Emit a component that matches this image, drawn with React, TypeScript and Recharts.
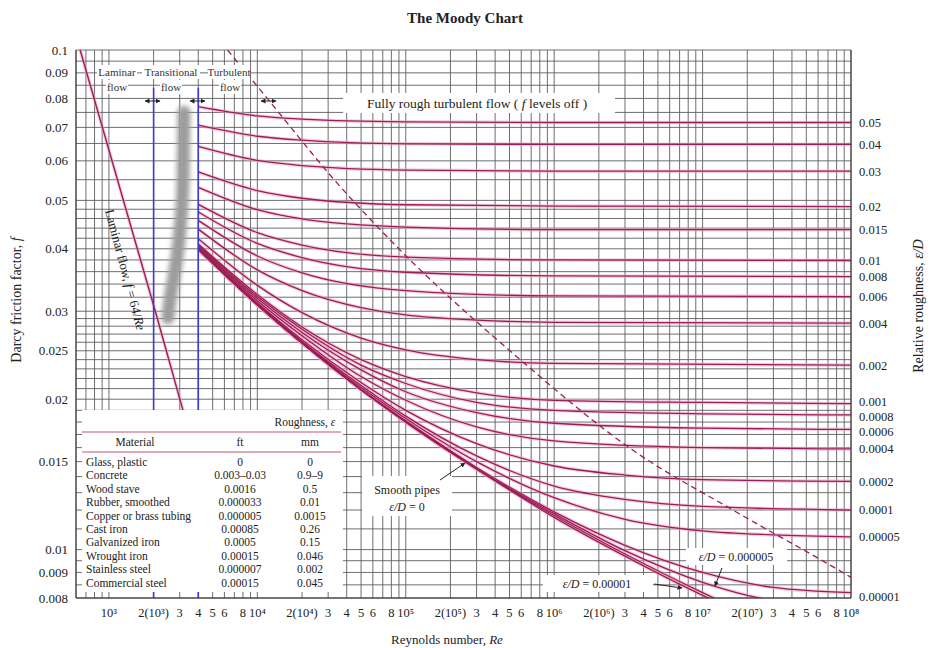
import { LineChart, Line, XAxis, YAxis, CartesianGrid } from "recharts";

const SERIF = "'Liberation Serif', 'DejaVu Serif', serif";
const CURVE = "#9b1d55";
const HALO = "#eba6c4";
const GRID = "#5e5e5e";
const INK = "#222";

// turbulent curves, [Re, f] pairs
const rough050 = [[4000, 0.077], [1e4, 0.0738], [2e4, 0.0727], [1e5, 0.0718], [1e6, 0.0716], [1e8, 0.0716]];
const rough040 = [[4000, 0.0707], [1e4, 0.0672], [2e4, 0.066], [1e5, 0.0649], [1e6, 0.0647], [1e8, 0.0647]];
const rough030 = [[4000, 0.0641], [1e4, 0.0601], [2e4, 0.0587], [1e5, 0.0575], [1e6, 0.0572], [1e8, 0.0572]];
const rough020 = [[4000, 0.057], [1e4, 0.0523], [2e4, 0.0505], [1e5, 0.049], [1e6, 0.0487], [1e8, 0.0486]];
const rough015 = [[4000, 0.0531], [1e4, 0.0479], [2e4, 0.0459], [1e5, 0.0442], [1e6, 0.0437], [1e8, 0.0437]];
const rough010 = [[4000, 0.0491], [1e4, 0.0431], [2e4, 0.0407], [1e5, 0.0385], [1e6, 0.038], [1e8, 0.0379]];
const rough008 = [[4000, 0.0474], [1e4, 0.041], [2e4, 0.0384], [1e5, 0.0359], [1e6, 0.0353], [1e8, 0.0352]];
const rough006 = [[4000, 0.0456], [1e4, 0.0387], [2e4, 0.0358], [1e5, 0.033], [1e6, 0.0322], [1e8, 0.0321]];
const rough004 = [[4000, 0.0438], [1e4, 0.0363], [2e4, 0.033], [5e4, 0.0305], [1e5, 0.0295], [3e5, 0.0288], [1e6, 0.0285], [1e8, 0.0284]];
const rough002 = [[4000, 0.0419], [1e4, 0.0338], [2e4, 0.0298], [5e4, 0.0265], [1e5, 0.0251], [3e5, 0.024], [1e6, 0.0236], [1e8, 0.0234]];
const rough001 = [[4000, 0.0409], [1e4, 0.0324], [2e4, 0.0279], [5e4, 0.024], [1e5, 0.0222], [3e5, 0.0206], [1e6, 0.0199], [1e7, 0.0197], [1e8, 0.0196]];
const rough0008 = [[4000, 0.0407], [1e4, 0.0321], [2e4, 0.0276], [5e4, 0.0234], [1e5, 0.0215], [3e5, 0.0197], [1e6, 0.019], [1e7, 0.0187], [1e8, 0.0186]];
const rough0006 = [[4000, 0.0405], [1e4, 0.0318], [2e4, 0.0272], [5e4, 0.0229], [1e5, 0.0207], [3e5, 0.0188], [1e6, 0.0179], [1e7, 0.0175], [1e8, 0.0174]];
const rough0004 = [[4000, 0.0403], [1e4, 0.0315], [2e4, 0.0268], [5e4, 0.0222], [1e5, 0.0199], [3e5, 0.0176], [1e6, 0.0165], [1e7, 0.016], [1e8, 0.0159]];
const rough0002 = [[4000, 0.0401], [1e4, 0.0312], [2e4, 0.0263], [5e4, 0.0216], [1e5, 0.019], [3e5, 0.0163], [1e6, 0.0147], [3e6, 0.0141], [1e7, 0.0138], [1e8, 0.0137]];
const rough0001 = [[4000, 0.04], [1e4, 0.031], [2e4, 0.0261], [5e4, 0.0213], [1e5, 0.0185], [3e5, 0.0154], [1e6, 0.0134], [3e6, 0.0126], [1e7, 0.0122], [1e8, 0.012]];
const rough00005 = [[4000, 0.04], [1e4, 0.0309], [2e4, 0.026], [5e4, 0.0211], [1e5, 0.0183], [3e5, 0.015], [1e6, 0.0127], [3e6, 0.0115], [1e7, 0.0109], [3e7, 0.0107], [1e8, 0.0106]];
const rough00001 = [[4000, 0.0399], [1e4, 0.0309], [2e4, 0.0259], [5e4, 0.0209], [1e5, 0.0181], [3e5, 0.0146], [1e6, 0.0119], [3e6, 0.0102], [1e7, 0.009], [3e7, 0.0084], [1e8, 0.0082]];
const rough000005 = [[4000, 0.0399], [1e4, 0.0309], [2e4, 0.0259], [5e4, 0.0209], [1e5, 0.018], [3e5, 0.0145], [1e6, 0.0118], [3e6, 0.00995], [1e7, 0.0086], [2e7, 0.0081], [3e7, 0.0079]];
const rough000001 = [[4000, 0.0399], [1e4, 0.0309], [2e4, 0.0259], [5e4, 0.0209], [1e5, 0.018], [3e5, 0.0145], [1e6, 0.0117], [3e6, 0.0098], [1e7, 0.0082], [1.3e7, 0.0079]];
const smoothPipe = [[4000, 0.0399], [1e4, 0.0309], [2e4, 0.0259], [5e4, 0.0209], [1e5, 0.018], [3e5, 0.0145], [1e6, 0.0116], [3e6, 0.0097], [1e7, 0.0081], [1.2e7, 0.0079]];

const laminar = [[640, 0.1], [2040, 0.0302], [3155, 0.019], [4000, 0.0148]];
const transitionBand = [[2500, 0.0291], [2578, 0.0316], [2787, 0.0363], [3012, 0.0436], [3156, 0.0549], [3205, 0.0751]];
const roughBoundary = [[6300, 0.1], [12200, 0.0787], [34400, 0.0542], [78300, 0.0417], [590000, 0.024], [3.4e6, 0.0158], [1.6e7, 0.012], [8.8e7, 0.009], [1e8, 0.0088]];
const laminarEdge = [[2000, 0.084], [2000, 0.008]];
const turbulentEdge = [[4000, 0.084], [4000, 0.008]];

const turbulentCurves = [
  rough050, rough040, rough030, rough020, rough015, rough010, rough008, rough006, rough004,
  rough002, rough001, rough0008, rough0006, rough0004, rough0002, rough0001, rough00005,
  rough00001, rough000005, rough000001, smoothPipe,
];

// right-hand labels and the f level where each sits at the right edge
const roughLabels = ["0.05", "0.04", "0.03", "0.02", "0.015", "0.01", "0.008", "0.006", "0.004", "0.002", "0.001", "0.0008", "0.0006", "0.0004", "0.0002", "0.0001", "0.00005", "0.00001"];
const roughPos = [0.0716, 0.0647, 0.0572, 0.0486, 0.0437, 0.0379, 0.0352, 0.0321, 0.0284, 0.0234, 0.0198, 0.0185, 0.0172, 0.0159, 0.0137, 0.012, 0.0106, 0.00805];

const fLabels = [0.1, 0.09, 0.08, 0.07, 0.06, 0.05, 0.04, 0.03, 0.025, 0.02, 0.015, 0.01, 0.009, 0.008];
const fGrid = [
  0.1, 0.095, 0.09, 0.085, 0.08, 0.075, 0.07, 0.065, 0.06, 0.055, 0.05, 0.048, 0.046, 0.044, 0.042,
  0.04, 0.038, 0.036, 0.034, 0.032, 0.03, 0.029, 0.028, 0.027, 0.026, 0.025, 0.024, 0.023, 0.022,
  0.021, 0.02, 0.019, 0.018, 0.017, 0.016, 0.015, 0.014, 0.013, 0.012, 0.011, 0.01, 0.0095, 0.009,
  0.0085, 0.008,
];

const reLabels: [number, string][] = [
  [1e3, "10³"], [2e3, "2(10³)"], [3e3, "3"], [4e3, "4"], [5e3, "5"], [6e3, "6"], [8e3, "8"],
  [1e4, "10⁴"], [2e4, "2(10⁴)"], [3e4, "3"], [4e4, "4"], [5e4, "5"], [6e4, "6"], [8e4, "8"],
  [1e5, "10⁵"], [2e5, "2(10⁵)"], [3e5, "3"], [4e5, "4"], [5e5, "5"], [6e5, "6"], [8e5, "8"],
  [1e6, "10⁶"], [2e6, "2(10⁶)"], [3e6, "3"], [4e6, "4"], [5e6, "5"], [6e6, "6"], [8e6, "8"],
  [1e7, "10⁷"], [2e7, "2(10⁷)"], [3e7, "3"], [4e7, "4"], [5e7, "5"], [6e7, "6"], [8e7, "8"],
  [1e8, "10⁸"],
];
const reGrid: number[] = [600, 700, 800, 900];
[1e3, 1e4, 1e5, 1e6, 1e7].forEach((d) => [1, 2, 3, 4, 5, 6, 7, 8, 9].forEach((m) => reGrid.push(m * d)));
reGrid.push(1e8);

const materials = ["Glass, plastic", "Concrete", "Wood stave", "Rubber, smoothed", "Copper or brass tubing", "Cast iron", "Galvanized iron", "Wrought iron", "Stainless steel", "Commercial steel"];
const roughFt = ["0", "0.003–0.03", "0.0016", "0.000033", "0.000005", "0.00085", "0.0005", "0.00015", "0.000007", "0.00015"];
const roughMm = ["0", "0.9–9", "0.5", "0.01", "0.0015", "0.26", "0.15", "0.046", "0.002", "0.045"];

const pts = (arr: number[][]) => arr.map(([re, f]) => ({ re, f }));
const fmtRe = (v: number) => reLabels.find(([k]) => k === v)?.[1] ?? "";
const fmtF = (v: number) => (fLabels.includes(v) ? String(v) : "");
const fmtRough = (v: number) => roughLabels[roughPos.indexOf(v)] ?? "";

function Overlay() {
  const rowY = (i: number) => 466 + i * 13.4;
  return (
    <svg width={931} height={648} style={{ position: "absolute", left: 0, top: 0, pointerEvents: "none" }} fontFamily={SERIF} fill={INK}>
      <defs>
        <marker id="ah" viewBox="0 0 10 10" refX="9" refY="5" markerWidth="5" markerHeight="5" orient="auto-start-reverse">
          <path d="M0,0 L10,5 L0,10 z" fill={INK} />
        </marker>
        <filter id="bandBlur" x="-100%" y="-20%" width="300%" height="140%">
          <feGaussianBlur stdDeviation="2.4" />
        </filter>
      </defs>

      <text x={465} y={23} textAnchor="middle" fontSize={15} fontWeight="bold">The Moody Chart</text>
      <text transform="translate(21,300) rotate(-90)" textAnchor="middle" fontSize={14}>
        Darcy friction factor, <tspan fontStyle="italic">f</tspan>
      </text>
      <text transform="translate(923,306) rotate(-90)" textAnchor="middle" fontSize={14}>
        Relative roughness, <tspan fontStyle="italic">ε/D</tspan>
      </text>
      <text x={447} y={644} textAnchor="middle" fontSize={13}>Reynolds number, <tspan fontStyle="italic">Re</tspan></text>

      {/* flow regime captions */}
      <rect x={97} y={65} width={40} height={14} fill="#fff" />
      <rect x={106} y={80} width={22} height={14} fill="#fff" />
      <rect x={142} y={65} width={58} height={14} fill="#fff" />
      <rect x={160} y={80} width={22} height={14} fill="#fff" />
      <rect x={208} y={65} width={42} height={14} fill="#fff" />
      <rect x={219} y={80} width={22} height={14} fill="#fff" />
      <g fontSize={11} textAnchor="middle" fill="#333">
        <text x={117} y={76}>Laminar</text>
        <text x={117} y={91}>flow</text>
        <text x={171} y={76}>Transitional</text>
        <text x={171} y={91}>flow</text>
        <text x={229} y={76}>Turbulent</text>
        <text x={230} y={91}>flow</text>
      </g>
      <g stroke={INK} strokeWidth={1}>
        <line x1={145} y1={101} x2={160} y2={101} markerStart="url(#ah)" markerEnd="url(#ah)" />
        <line x1={190} y1={101} x2={205} y2={101} markerStart="url(#ah)" markerEnd="url(#ah)" />
        <line x1={261} y1={101} x2={276} y2={101} markerStart="url(#ah)" markerEnd="url(#ah)" />
      </g>

      <text transform="translate(121,271) rotate(75)" textAnchor="middle" fontSize={13}>
        Laminar flow, <tspan fontStyle="italic">f</tspan> = 64/<tspan fontStyle="italic">Re</tspan>
      </text>

      <rect x={343} y={93} width={272} height={20} fill="#fff" />
      <text x={477} y={108} textAnchor="middle" fontSize={13.5}>
        Fully rough turbulent flow ( <tspan fontStyle="italic">f</tspan> levels off )
      </text>

      <rect x={362} y={476} width={90} height={40} fill="#fff" />
      <text x={407} y={494} textAnchor="middle" fontSize={12}>Smooth pipes</text>
      <text x={407} y={511} textAnchor="middle" fontSize={12}>
        <tspan fontStyle="italic">ε/D</tspan> = 0
      </text>
      <line x1={440} y1={480} x2={465} y2={463} stroke={INK} strokeWidth={1} markerEnd="url(#ah)" />

      <rect x={686} y={548} width={101} height={17} fill="#fff" />
      <text x={736} y={561} textAnchor="middle" fontSize={12}>
        <tspan fontStyle="italic">ε/D</tspan> = 0.000005
      </text>
      <line x1={722} y1={568} x2={715} y2={586} stroke={INK} strokeWidth={1} markerEnd="url(#ah)" />

      <rect x={543} y={575} width={110} height={17} fill="#fff" />
      <text x={597} y={588} textAnchor="middle" fontSize={12}>
        <tspan fontStyle="italic">ε/D</tspan> = 0.00001
      </text>
      <line x1={654} y1={584} x2={682} y2={588} stroke={INK} strokeWidth={1} markerEnd="url(#ah)" />

      {/* roughness table */}
      <rect x={82} y={410} width={261} height={182} fill="#fff" />
      <text x={305} y={426} textAnchor="middle" fontSize={11.5}>Roughness, <tspan fontStyle="italic">ε</tspan></text>
      <line x1={82} y1={432} x2={341} y2={432} stroke="#c2557b" strokeWidth={1.2} />
      <g fontSize={11.5} textAnchor="middle">
        <text x={135} y={446}>Material</text>
        <text x={240} y={446}>ft</text>
        <text x={310} y={446}>mm</text>
      </g>
      <line x1={82} y1={452} x2={341} y2={452} stroke="#c2557b" strokeWidth={1.2} />
      <g fontSize={11.5}>
        {materials.map((m, i) => (
          <g key={m}>
            <text x={86} y={rowY(i)}>{m}</text>
            <text x={240} y={rowY(i)} textAnchor="middle">{roughFt[i]}</text>
            <text x={310} y={rowY(i)} textAnchor="middle">{roughMm[i]}</text>
          </g>
        ))}
      </g>
    </svg>
  );
}

export default function App() {
  const tickStyle = { fontSize: 13, fill: INK, fontFamily: SERIF };
  return (
    <div style={{ position: "absolute", left: 0, top: 0, width: 931, height: 648, background: "#fff" }}>
      <LineChart width={931} height={648} margin={{ top: 50, right: 5, bottom: 20, left: 16 }}>
        <CartesianGrid yAxisId="f" stroke={GRID} strokeWidth={0.9} />
        <XAxis
          dataKey="re"
          type="number"
          scale="log"
          domain={[600, 1e8]}
          allowDataOverflow
          ticks={reGrid}
          interval={0}
          tickFormatter={fmtRe}
          tickLine={false}
          tickMargin={4}
          height={30}
          axisLine={{ stroke: "#333" }}
          tick={{ ...tickStyle, fontSize: 12.5 }}
        />
        <YAxis
          yAxisId="f"
          type="number"
          scale="log"
          domain={[0.008, 0.1]}
          allowDataOverflow
          ticks={fGrid}
          interval={0}
          tickFormatter={fmtF}
          tickLine={false}
          width={60}
          axisLine={{ stroke: "#333" }}
          tick={tickStyle}
        />
        <YAxis
          yAxisId="r"
          orientation="right"
          type="number"
          scale="log"
          domain={[0.008, 0.1]}
          allowDataOverflow
          ticks={roughPos}
          interval={0}
          tickFormatter={fmtRough}
          tickLine={false}
          width={75}
          axisLine={{ stroke: "#333" }}
          tick={{ ...tickStyle, fontSize: 12.5 }}
        />

        <Line yAxisId="f" data={pts(transitionBand)} dataKey="f" type="monotone" stroke="#9c9c9c" strokeWidth={13} strokeLinecap="round" filter="url(#bandBlur)" dot={false} isAnimationActive={false} />

        {turbulentCurves.map((c, i) => (
          <Line key={"h" + i} yAxisId="f" data={pts(c)} dataKey="f" type="monotone" stroke={HALO} strokeWidth={3.6} strokeOpacity={0.55} dot={false} isAnimationActive={false} />
        ))}
        <Line yAxisId="f" data={pts(laminar)} dataKey="f" type="linear" stroke={HALO} strokeWidth={3.6} strokeOpacity={0.55} dot={false} isAnimationActive={false} />
        {turbulentCurves.map((c, i) => (
          <Line key={"c" + i} yAxisId="f" data={pts(c)} dataKey="f" type="monotone" stroke={CURVE} strokeWidth={1.3} dot={false} isAnimationActive={false} />
        ))}
        <Line yAxisId="f" data={pts(laminar)} dataKey="f" type="linear" stroke={CURVE} strokeWidth={1.4} dot={false} isAnimationActive={false} />
        <Line yAxisId="f" data={pts(roughBoundary)} dataKey="f" type="monotone" stroke={CURVE} strokeWidth={1.3} strokeDasharray="6 4" dot={false} isAnimationActive={false} />
        <Line yAxisId="f" data={pts(laminarEdge)} dataKey="f" type="linear" stroke="#3b3bd6" strokeWidth={1.6} dot={false} isAnimationActive={false} />
        <Line yAxisId="f" data={pts(turbulentEdge)} dataKey="f" type="linear" stroke="#3b3bd6" strokeWidth={1.6} dot={false} isAnimationActive={false} />
      </LineChart>
      <Overlay />
    </div>
  );
}
